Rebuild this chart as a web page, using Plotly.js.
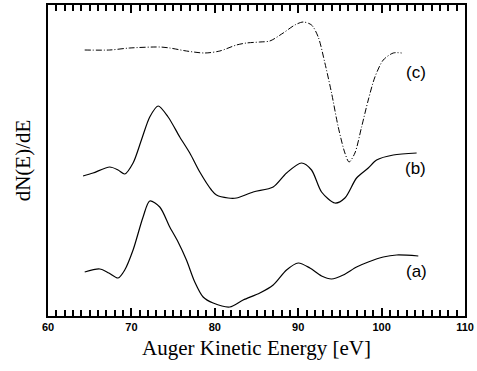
<!DOCTYPE html>
<html>
<head>
<meta charset="utf-8">
<script src="https://cdn.plot.ly/plotly-3.0.1.min.js"></script>
<style>html,body{margin:0;padding:0;background:#fff;}#chart{width:477px;height:371px;}</style>
</head>
<body>
<div id="chart"></div>
<script>
// Auger Kinetic Energy (eV) and dN(E)/dE (arbitrary units, curves offset)
const energyA = [64.4, 66.2, 67.3, 68.4, 69.2, 70.2, 71.4, 72.2, 73.4, 74.6, 75.6, 76.6, 77.6, 78.6, 79.8, 81.8, 83.4, 85.4, 87.0, 88.6, 90.0, 91.4, 92.8, 94.0, 95.4, 97.0, 98.4, 100.2, 101.8, 104.4];
const signalA = [44, 47, 43, 38, 46, 66, 99, 115, 109, 89, 74, 56, 34, 19, 13, 9, 16, 23, 31, 46, 53, 48, 40, 37, 41, 49, 54, 59, 61, 60];

const energyB = [64.2, 65.4, 67.4, 68.4, 69.2, 70.2, 71.2, 72.2, 73.2, 74.4, 75.8, 77.0, 78.2, 79.6, 80.2, 81.6, 82.6, 84.6, 87.0, 88.6, 90.4, 91.6, 92.8, 94.4, 95.6, 97.0, 98.4, 99.4, 101.4, 104.2];
const signalB = [140, 143, 149, 146, 142, 153, 176, 199, 210, 199, 179, 163, 144, 126, 121, 118, 118, 124, 129, 143, 153, 146, 124, 113, 118, 138, 148, 156, 161, 163];

const energyC = [64.4, 67.4, 69.8, 73.4, 74.6, 76.6, 78.8, 80.6, 82.6, 83.8, 85.4, 86.6, 88.2, 89.6, 90.6, 91.6, 92.4, 93.2, 94.0, 94.8, 95.6, 96.1, 96.8, 97.6, 98.4, 99.2, 100.2, 101.4, 102.4];
const signalC = [266, 266, 268, 269, 268, 265, 263, 265, 271, 273, 274, 275, 283, 291, 294, 291, 279, 253, 223, 189, 163, 154, 163, 189, 216, 239, 256, 263, 263];

const curveLabels = ["(a)", "(b)", "(c)"];
const labelEnergy = [104.2, 104.1, 104.1];
const labelSignal = [45, 148, 244];

const lineStyle = {color: "#000", width: 1.2, shape: "spline", smoothing: 0.8};
const traces = [
  {x: energyA, y: signalA, mode: "lines", line: lineStyle, hoverinfo: "skip"},
  {x: energyB, y: signalB, mode: "lines", line: lineStyle, hoverinfo: "skip"},
  {x: energyC, y: signalC, mode: "lines", line: Object.assign({}, lineStyle, {width: 1, dash: "6px,2px,1px,2px"}), hoverinfo: "skip"}
];

const annotations = curveLabels.map((t, i) => ({
  x: labelEnergy[i], y: labelSignal[i], xref: "x", yref: "y", text: t, showarrow: false,
  font: {family: "Liberation Sans", size: 17, color: "#000"}
}));

const layout = {
  width: 477, height: 371,
  margin: {l: 48, r: 12, t: 5, b: 55},
  paper_bgcolor: "#fff", plot_bgcolor: "#fff",
  showlegend: false,
  annotations: annotations,
  xaxis: {
    range: [60, 110], dtick: 10, tick0: 60,
    ticks: "inside", ticklen: 8, tickwidth: 2, tickcolor: "#000",
    minor: {dtick: 1, ticks: "inside", ticklen: 6, tickwidth: 1.6, tickcolor: "#000"},
    showline: true, linecolor: "#000", linewidth: 2, mirror: "allticks",
    showgrid: false, zeroline: false,
    tickfont: {family: "Liberation Sans", size: 11, color: "#000", weight: "bold"},
    title: {text: "Auger Kinetic Energy [eV]", font: {family: "Liberation Serif", size: 21, color: "#000"}, standoff: 8}
  },
  yaxis: {
    range: [0, 311], showticklabels: false, ticks: "",
    showline: true, linecolor: "#000", linewidth: 2, mirror: true,
    showgrid: false, zeroline: false,
    title: {text: "dN(E)/dE", font: {family: "Liberation Serif", size: 21, color: "#000"}, standoff: 10}
  }
};

Plotly.newPlot("chart", traces, layout, {displayModeBar: false});
</script>
</body>
</html>
